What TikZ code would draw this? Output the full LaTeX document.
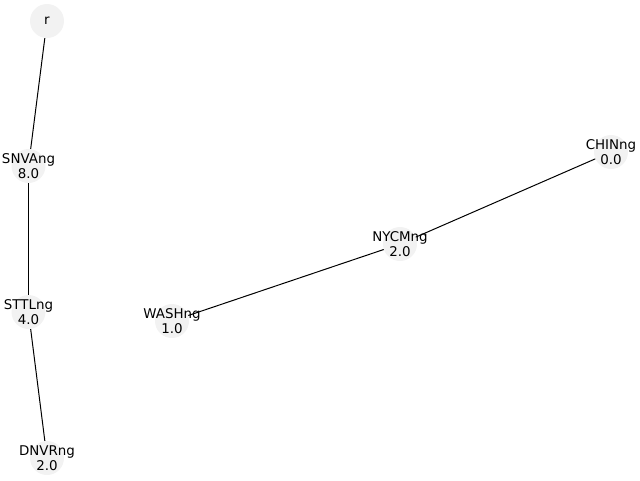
\documentclass[tikz,border=0pt]{standalone}
\usepackage{fontspec}
\setmainfont{DejaVu Sans}
\usepackage{tikz}

\begin{document}
\begin{tikzpicture}[x=1pt,y=-1pt]
    \tikzstyle{every node}+=[inner sep=0pt]
    \tikzstyle{vertex}=[circle, fill=black!5, minimum size=34pt]
    \tikzstyle{vlabel}=[align=center, font=\fontsize{13.4}{15}\selectfont]
    \useasboundingbox (0,0) rectangle (640,480);
    \node [vertex] (r) at (47,21) {};
    \node [vertex] (snva) at (28.5,166) {};
    \node [vertex] (sttl) at (28.5,312) {};
    \node [vertex] (dnvr) at (47,458) {};
    \node [vertex] (wash) at (172,321) {};
    \node [vertex] (nycm) at (400,244) {};
    \node [vertex] (chin) at (611,152) {};
    \draw [black, line width=1pt] (r) -- (snva);
    \draw [black, line width=1pt] (snva) -- (sttl);
    \draw [black, line width=1pt] (sttl) -- (dnvr);
    \draw [black, line width=1pt] (wash) -- (nycm);
    \draw [black, line width=1pt] (nycm) -- (chin);
    \node [vlabel] (r-l) at (r) {r};
    \node [vlabel] (snva-l) at (snva) {SNVAng\\8.0};
    \node [vlabel] (sttl-l) at (sttl) {STTLng\\4.0};
    \node [vlabel] (dnvr-l) at (dnvr) {DNVRng\\2.0};
    \node [vlabel] (wash-l) at (wash) {WASHng\\1.0};
    \node [vlabel] (nycm-l) at (nycm) {NYCMng\\2.0};
    \node [vlabel] (chin-l) at (chin) {CHINng\\0.0};
\end{tikzpicture}
\end{document}
